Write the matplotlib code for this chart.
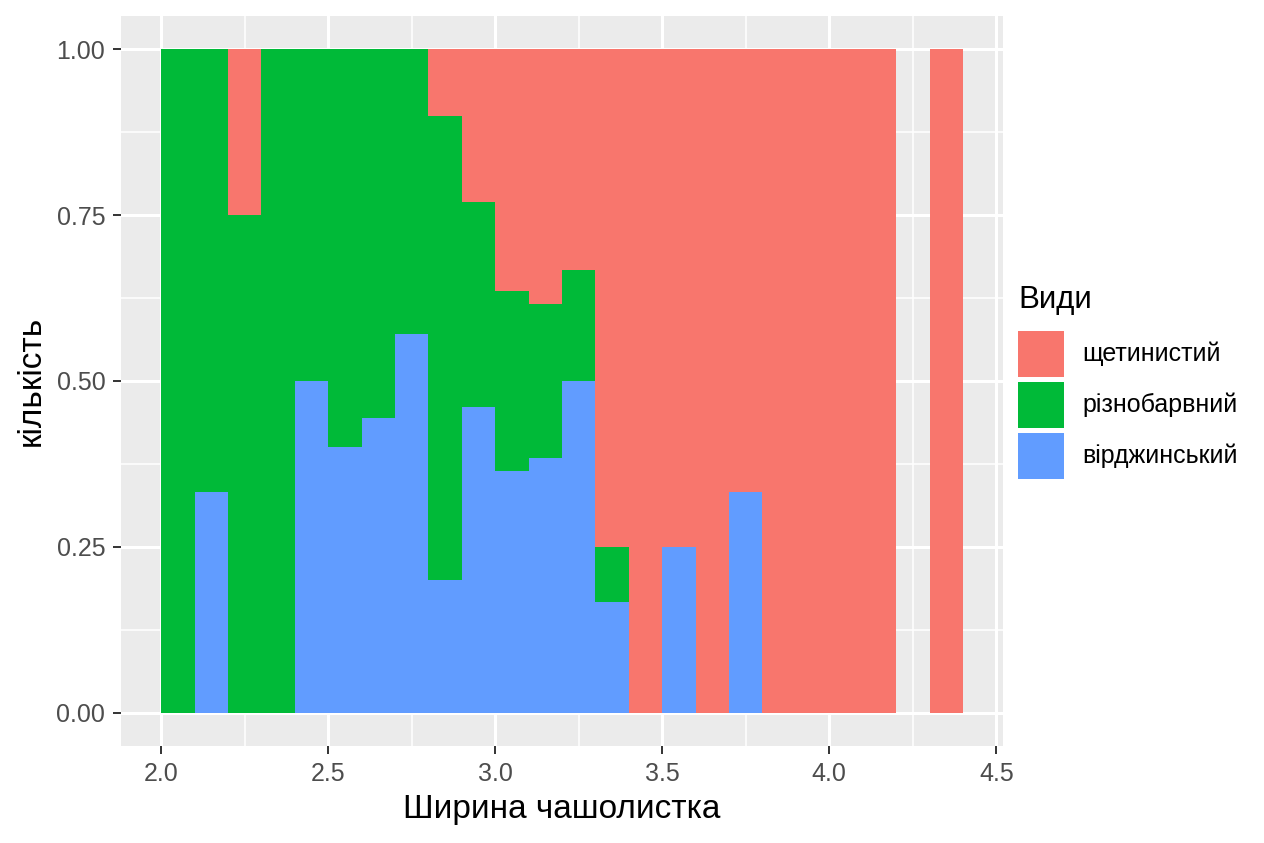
import numpy as np
import matplotlib
matplotlib.use("Agg")
import matplotlib.pyplot as plt
from matplotlib.patches import Rectangle

plt.rcParams['font.family'] = ['Liberation Sans', 'DejaVu Sans']

# Data: sepal width bins (left edges, width 0.1) and counts per species
bin_left = [2.0, 2.1, 2.2, 2.3, 2.4, 2.5, 2.6, 2.7, 2.8, 2.9, 3.0, 3.1,
            3.2, 3.3, 3.4, 3.5, 3.6, 3.7, 3.8, 3.9, 4.0, 4.1, 4.2, 4.3]
bin_width = 0.1
setosa     = [0, 0, 1, 0, 0, 0, 0, 0, 1, 6, 4, 5, 2, 9, 6, 3, 3, 4, 2, 1, 1, 1, 0, 1]
versicolor = [1, 2, 3, 3, 4, 3, 5, 6, 7, 8, 3, 3, 1, 1, 0, 0, 0, 0, 0, 0, 0, 0, 0, 0]
virginica  = [0, 1, 0, 0, 4, 2, 4, 8, 2, 12, 4, 5, 3, 2, 0, 1, 0, 2, 0, 0, 0, 0, 0, 0]

species_labels = ['щетинистий', 'різнобарвний', 'вірджинський']
colors = ['#F8766D', '#00BA38', '#619CFF']
legend_title = 'Види'
x_label = 'Ширина чашолистка'
y_label = 'кількість'
x_ticks = [2.0, 2.5, 3.0, 3.5, 4.0, 4.5]
x_ticklabels = ['2.0', '2.5', '3.0', '3.5', '4.0', '4.5']
y_ticks = [0.0, 0.25, 0.5, 0.75, 1.0]
y_ticklabels = ['0.00', '0.25', '0.50', '0.75', '1.00']

W, H = 1264, 843
fig = plt.figure(figsize=(W / 100, H / 100), dpi=100)

def px(x0, y0, x1, y1):
    return [x0 / W, 1 - y1 / H, (x1 - x0) / W, (y1 - y0) / H]

ax = fig.add_axes(px(121, 16, 1003, 746))
ax.set_facecolor('#EBEBEB')
for s in ax.spines.values():
    s.set_visible(False)

ax.set_xlim(1.88, 4.52)
ax.set_ylim(-0.05, 1.05)

# grid
ax.set_xticks(x_ticks)
ax.set_xticklabels(x_ticklabels)
ax.set_yticks(y_ticks)
ax.set_yticklabels(y_ticklabels)
ax.set_xticks([2.25, 2.75, 3.25, 3.75, 4.25], minor=True)
ax.set_yticks([0.125, 0.375, 0.625, 0.875], minor=True)
ax.grid(which='major', color='white', linewidth=2.2)
ax.grid(which='minor', color='white', linewidth=1.1)
ax.set_axisbelow(True)
ax.tick_params(which='minor', length=0)
ax.tick_params(which='major', length=5.8, width=1.4, color='#333333',
               labelsize=18, labelcolor='#4D4D4D', pad=5.5)

# stacked proportions (virginica bottom, versicolor, setosa top)
s = np.array(setosa, float)
v = np.array(versicolor, float)
g = np.array(virginica, float)
tot = s + v + g
mask = tot > 0
xl = np.array(bin_left)[mask]
fs = s[mask] / tot[mask]
fv = v[mask] / tot[mask]
fg = g[mask] / tot[mask]
ax.bar(xl, fg, width=bin_width, align='edge', color=colors[2], linewidth=0)
ax.bar(xl, fv, width=bin_width, bottom=fg, align='edge', color=colors[1], linewidth=0)
ax.bar(xl, fs, width=bin_width, bottom=fg + fv, align='edge', color=colors[0], linewidth=0)

# axis titles
fig.text(562 / W, 1 - 818 / H, x_label, ha='center', va='baseline',
         fontsize=24, color='black')
fig.text(31 / W, 1 - 381 / H, y_label, ha='center', va='center',
         rotation=90, fontsize=24, color='black')

# legend
fig.text(1018 / W, 1 - 308 / H, legend_title, ha='left', va='baseline',
         fontsize=22.5, color='black')
key_top = 331
for i, (lab, c) in enumerate(zip(species_labels, colors)):
    y0 = key_top + i * 51
    fig.patches.append(Rectangle((1018 / W, 1 - (y0 + 46) / H), 46 / W, 46 / H,
                                 transform=fig.transFigure, facecolor=c,
                                 edgecolor='none'))
    fig.text(1082 / W, 1 - (y0 + 23) / H, lab, ha='left', va='center',
             fontsize=18, color='black')

fig.savefig('out.png', dpi=100)
